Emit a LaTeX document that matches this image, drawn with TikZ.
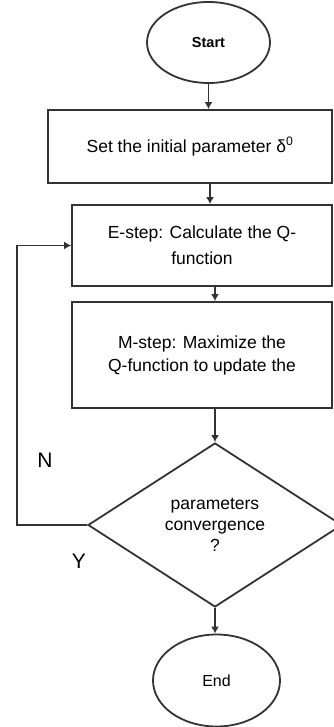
\documentclass[tikz,border=0pt]{standalone}
\usepackage{fontspec}
\setmainfont{Liberation Sans}
\usetikzlibrary{shapes.geometric,arrows.meta}
\begin{document}
\begin{tikzpicture}[x=1pt, y=-1pt,
  flow/.style={draw=black!80, line width=1.8pt},
  term/.style={flow, ellipse, inner sep=0pt},
  stepbox/.style={flow, rectangle, inner sep=0pt, align=center,
    font=\fontsize{17.5}{23}\selectfont},
  decide/.style={flow, diamond, inner sep=0pt, align=center,
    font=\fontsize{17.5}{21}\selectfont},
  arr/.style={draw=black!80, line width=1.8pt, -{Latex[length=7pt,width=8pt]}}]
  \useasboundingbox (0,0) rectangle (334,727);
  \node[term, minimum width=123pt, minimum height=81pt,
    font=\fontsize{14.5}{17}\selectfont\bfseries] (start) at (208.5,42.5) {Start};
  \node[stepbox, minimum width=284pt, minimum height=73pt] (init) at (190,146.5)
    {Set the initial parameter δ\textsuperscript{0}};
  \node[stepbox, minimum width=260pt, minimum height=81pt] (estep) at (202,245.5)
    {\raisebox{-5pt}{\shortstack{E-step: Calculate the Q-\\[7pt]function}}};
  \node[stepbox, minimum width=260pt, minimum height=106pt] (mstep) at (202,355)
    {M-step: Maximize the\\Q-function to update the};
  \node[decide, minimum width=254pt, minimum height=164pt] (conv) at (215,525)
    {parameters\\convergence\\?};
  \node[term, minimum width=127pt, minimum height=92pt,
    font=\fontsize{16}{19}\selectfont] (stop) at (216.5,680.5) {End};
  \coordinate (back) at (17,525);
  \node[font=\fontsize{21}{24}\selectfont] (no) at (45,460) {N};
  \node[font=\fontsize{21}{24}\selectfont] (yes) at (79,561) {Y};
  \draw[arr] (start.south) -- (start.south |- init.north);
  \draw[arr] (init.south -| 210,0) -- (estep.north -| 210,0);
  \draw[arr] (conv.north |- estep.south) -- (conv.north |- mstep.north);
  \draw[arr] (conv.north |- mstep.south) -- (conv.north);
  \draw[arr] (conv.south) -- (conv.south |- stop.north);
  \draw[arr] (conv.west) -- (back) |- (estep.west);
\end{tikzpicture}
\end{document}
